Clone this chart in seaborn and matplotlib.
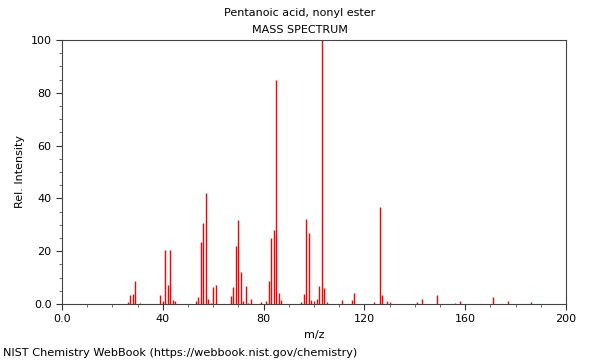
import matplotlib
matplotlib.use("Agg")
import matplotlib.pyplot as plt
import numpy as np
import pandas as pd
import seaborn as sns
from matplotlib.ticker import MultipleLocator, FuncFormatter

# peaks
mz = [26, 27, 28, 29, 31, 39, 40, 41, 42, 43, 44, 45,
      53, 54, 55, 56, 57, 58, 59, 60, 61,
      67, 68, 69, 70, 71, 72, 73, 74, 75,
      79, 81, 82, 83, 84, 85, 86, 87,
      95, 96, 97, 98, 99, 100, 101, 102, 103, 104, 105,
      111, 115, 116, 124, 126, 127, 129, 130,
      141, 143, 149, 156, 158, 171, 177, 186]
intensity = [0.8, 3.3, 3.7, 8.7, 0.3, 3.4, 1.0, 20.5, 7.3, 20.5, 1.6, 1.0,
             1.3, 2.5, 23.4, 30.7, 42.2, 1.9, 0.5, 6.3, 7.1,
             2.9, 6.4, 22.0, 31.7, 12.2, 1.0, 6.7, 0.5, 1.9,
             0.8, 1.3, 8.7, 24.9, 27.9, 84.8, 4.0, 1.5,
             0.9, 3.8, 32.2, 26.9, 1.4, 1.0, 1.9, 6.8, 100.0, 6.2, 0.8,
             1.5, 1.5, 4.0, 0.7, 36.7, 3.3, 1.2, 0.7,
             0.7, 1.9, 3.4, 0.5, 1.0, 2.6, 1.1, 0.6]

title_name = "Pentanoic acid, nonyl ester"
title_kind = "MASS SPECTRUM"
footer = "NIST Chemistry WebBook (https://webbook.nist.gov/chemistry)"

spec = pd.DataFrame({"mz": mz, "intensity": intensity})

sns.set_style("ticks")
plt.rcParams["font.family"] = ["DejaVu Sans"]
plt.rcParams["text.color"] = "black"
plt.rcParams["axes.labelcolor"] = "black"
plt.rcParams["xtick.color"] = "black"
plt.rcParams["ytick.color"] = "black"

fig = plt.figure(figsize=(6, 3.6), dpi=100)
ax = fig.add_axes([62 / 600, 56 / 360, 504 / 600, 264 / 360])

ax.vlines(spec["mz"], 0, spec["intensity"], colors="#ff0000", linewidth=1)

ax.set_xlim(0, 200)
ax.set_ylim(0, 100)
ax.xaxis.set_major_locator(MultipleLocator(40))
ax.xaxis.set_minor_locator(MultipleLocator(10))
ax.yaxis.set_major_locator(MultipleLocator(20))
ax.yaxis.set_minor_locator(MultipleLocator(5))
fmt = FuncFormatter(lambda v, p: "0.0" if v == 0 else f"{v:g}")
ax.xaxis.set_major_formatter(fmt)
ax.yaxis.set_major_formatter(fmt)
ax.tick_params(which="major", length=4, width=0.8, labelsize=8, color="#333333")
ax.tick_params(which="minor", length=2, width=0.6, color="#555555")
for s in ax.spines.values():
    s.set_color("#444444")
    s.set_linewidth(0.8)

ax.set_xlabel("m/z", fontsize=8, labelpad=4)
ax.set_ylabel("Rel. Intensity", fontsize=8, labelpad=4)

fig.text(0.5, 1 - 13 / 360, title_name, ha="center", va="center", fontsize=8)
fig.text(0.5, 1 - 30 / 360, title_kind, ha="center", va="center", fontsize=8)
fig.text(3 / 600, 1 - 353 / 360, footer, ha="left", va="center", fontsize=8.1)

fig.savefig("out.png", dpi=100)
